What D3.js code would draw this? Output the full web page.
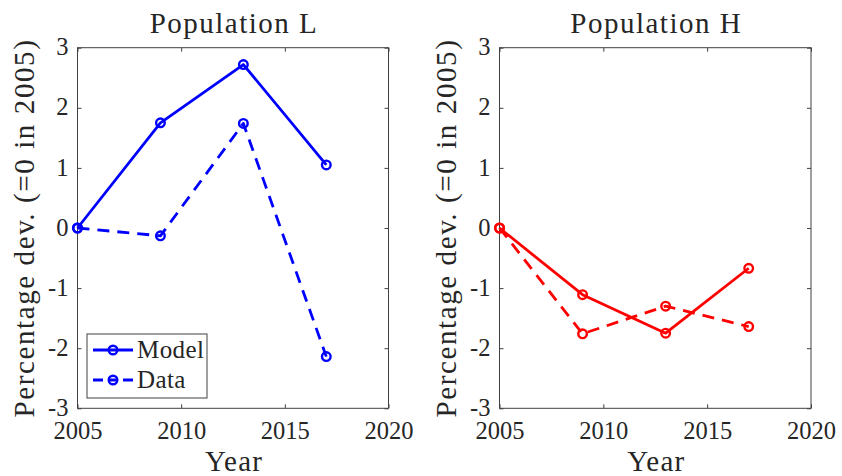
<!DOCTYPE html>
<html>
<head>
<meta charset="utf-8">
<script src="https://cdn.jsdelivr.net/npm/d3@7"></script>
<style>
  html, body { margin: 0; padding: 0; background: #fff; }
  svg text { font-family: "Liberation Serif", "Times New Roman", serif; fill: #262626; }
</style>
</head>
<body>
<svg id="chart" width="842" height="476"></svg>
<script>
// ---- data ----
const years = [2005, 2009, 2013, 2017];
const modelL = [0, 1.75, 2.72, 1.05];
const dataL  = [0, -0.13, 1.74, -2.14];
const modelH = [0, -1.11, -1.75, -0.67];
const dataH  = [0, -1.76, -1.30, -1.64];
const xTicks = [2005, 2010, 2015, 2020];
const yTicks = [-3, -2, -1, 0, 1, 2, 3];
const titles = ["Population L", "Population H"];
const yLabel = "Percentage dev.  (=0 in 2005)";
const xLabel = "Year";
const legendLabels = ["Model", "Data"];

const svg = d3.select("#chart");
const axisColor = "#404040";
const dashPattern = "12,8";

const panels = [
  { x0: 77.5, x1: 388.5, title: titles[0], color: "#0000ff", model: modelL, data: dataL, legend: true },
  { x0: 499.5, x1: 811, title: titles[1], color: "#ff0000", model: modelH, data: dataH, legend: false }
];
const yTop = 47.7, yBot = 408.3;

panels.forEach(p => {
  const x = d3.scaleLinear().domain([2005, 2020]).range([p.x0, p.x1]);
  const y = d3.scaleLinear().domain([-3, 3]).range([yBot, yTop]);
  const g = svg.append("g");

  // axes box
  g.append("rect")
    .attr("x", p.x0).attr("y", yTop)
    .attr("width", p.x1 - p.x0).attr("height", yBot - yTop)
    .attr("fill", "#fff").attr("stroke", axisColor).attr("stroke-width", 1);

  // ticks (inside, all four sides) via d3 axes
  const tl = 4;
  const bottom = g.append("g").attr("transform", `translate(0,${yBot})`)
    .call(d3.axisBottom(x).tickValues(xTicks).tickSize(-tl).tickFormat(d3.format("d")));
  const top = g.append("g").attr("transform", `translate(0,${yTop})`)
    .call(d3.axisTop(x).tickValues(xTicks).tickSize(-tl).tickFormat(""));
  const left = g.append("g").attr("transform", `translate(${p.x0},0)`)
    .call(d3.axisLeft(y).tickValues(yTicks).tickSize(-tl).tickFormat(d => String(d)));
  const right = g.append("g").attr("transform", `translate(${p.x1},0)`)
    .call(d3.axisRight(y).tickValues(yTicks).tickSize(-tl).tickFormat(""));
  [bottom, top, left, right].forEach(a => {
    a.attr("font-family", null).attr("font-size", null);
    a.select(".domain").remove();
    a.selectAll(".tick line").attr("stroke", axisColor);
    a.selectAll("text").attr("font-size", 24.5).attr("fill", "#262626");
  });
  bottom.selectAll("text").attr("dy", null).attr("y", 31);
  left.selectAll("text").attr("dy", "0.29em").attr("x", -9);

  // title
  g.append("text").attr("x", (p.x0 + p.x1) / 2 + 1).attr("y", 33)
    .attr("text-anchor", "middle").attr("font-size", 29).attr("letter-spacing", 1.5)
    .text(p.title);
  // x label
  g.append("text").attr("x", (p.x0 + p.x1) / 2 + 1).attr("y", 471)
    .attr("text-anchor", "middle").attr("font-size", 29).attr("letter-spacing", 1.2)
    .text(xLabel);
  // y label
  g.append("text")
    .attr("transform", `translate(${p.x0 - 44},${(yTop + yBot) / 2}) rotate(-90)`)
    .attr("text-anchor", "middle").attr("font-size", 29).attr("letter-spacing", 1.6)
    .text(yLabel);

  const line = d3.line().x((d, i) => x(years[i])).y(d => y(d));
  const series = [
    { vals: p.model, dash: null },
    { vals: p.data, dash: dashPattern }
  ];
  series.forEach(s => {
    g.append("path").datum(s.vals)
      .attr("d", line).attr("fill", "none")
      .attr("stroke", p.color).attr("stroke-width", 2.8)
      .attr("stroke-linejoin", "round")
      .attr("stroke-dasharray", s.dash);
    g.selectAll(null).data(s.vals).enter().append("circle")
      .attr("cx", (d, i) => x(years[i])).attr("cy", d => y(d))
      .attr("r", 4.3).attr("fill", "none")
      .attr("stroke", p.color).attr("stroke-width", 2.4);
  });

  if (p.legend) {
    const lx = 87, ly = 334, lw = 120, lh = 64;
    const lg = g.append("g");
    lg.append("rect").attr("x", lx).attr("y", ly).attr("width", lw).attr("height", lh)
      .attr("fill", "#fff").attr("stroke", axisColor).attr("stroke-width", 1);
    legendLabels.forEach((lab, i) => {
      const cy = ly + 16 + i * 30;
      lg.append("line").attr("x1", lx + 6).attr("x2", lx + 46).attr("y1", cy).attr("y2", cy)
        .attr("stroke", p.color).attr("stroke-width", 2.8)
        .attr("stroke-dasharray", i === 1 ? "10,5,10,5,10" : null);
      lg.append("circle").attr("cx", lx + 26).attr("cy", cy).attr("r", 4.3)
        .attr("fill", "none").attr("stroke", p.color).attr("stroke-width", 2.4);
      lg.append("text").attr("x", lx + 50).attr("y", cy + 8)
        .attr("font-size", 25).attr("letter-spacing", 0.4).text(lab);
    });
  }
});
</script>
</body>
</html>
